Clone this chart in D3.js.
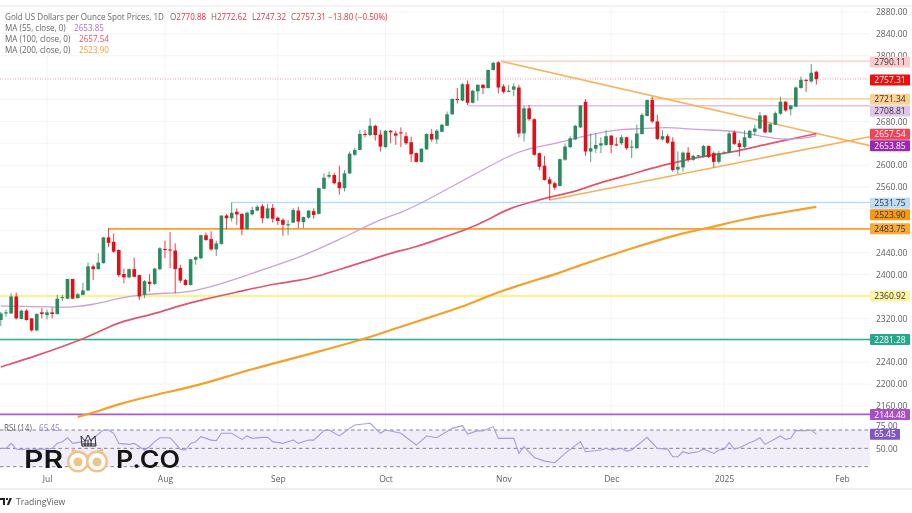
<!DOCTYPE html>
<html lang="en">
<head>
  <meta charset="UTF-8">
  <script src="https://d3js.org/d3.v7.min.js"></script>
  <title>Gold US Dollars per Ounce Spot Prices</title>
  <style>
    html, body { margin: 0; padding: 0; background: #fff; overflow: hidden; }
    svg { display: block; font-family: 'Open Sans', sans-serif; filter: blur(0.35px); }
    .axis path, .axis line { display: none; }
    .axis text { fill: #5d5d5d; font-size: 8.5px; font-family: 'Open Sans', sans-serif; }
    .legend { font-size: 8.1px; fill: #666; }
    .tag { font-size: 8.5px; text-anchor: middle; }
  </style>
</head>
<body>
<div id="chart"></div>
<script>
  // daily bars, bar 0 is 1 Jul 2024
  let firstBar = -9;
  let opens = [2317,2329,2329,2360,2319,2334,2320,2298,2331,2326,2331,2328,2357,2356,2392,2357,2363,2371,2415,2410,2421,2468,2460,2445,2401,2395,2410,2399,2363,2387,2383,2410,2447,2446,2444,2412,2390,2381,2427,2430,2472,2465,2446,2456,2508,2503,2515,2511,2483,2510,2517,2525,2503,2522,2504,2500,2490,2495,2517,2496,2504,2516,2511,2557,2579,2582,2569,2558,2585,2619,2628,2657,2655,2672,2656,2633,2663,2658,2660,2653,2642,2622,2606,2629,2657,2647,2661,2672,2693,2721,2718,2748,2714,2735,2747,2741,2774,2788,2744,2734,2738,2742,2658,2704,2684,2622,2599,2574,2567,2562,2610,2633,2647,2669,2716,2625,2630,2636,2637,2654,2638,2640,2651,2632,2631,2657,2690,2719,2680,2647,2653,2643,2592,2596,2623,2610,2616,2615,2635,2622,2606,2622,2623,2660,2640,2633,2650,2661,2667,2691,2660,2674,2694,2716,2702,2707,2741,2756,2753,2770.88];
  let closes = [2329,2331,2360,2320,2334,2317,2298,2328,2328,2331,2328,2356,2359,2392,2356,2364,2371,2415,2410,2422,2468,2458,2442,2399,2395,2410,2396,2360,2388,2383,2411,2448,2445,2444,2410,2389,2381,2428,2432,2472,2463,2446,2457,2508,2503,2513,2510,2483,2513,2518,2524,2503,2521,2502,2498,2491,2492,2518,2497,2505,2517,2509,2558,2577,2582,2567,2558,2585,2621,2628,2657,2655,2672,2655,2634,2663,2660,2654,2658,2640,2620,2606,2630,2657,2647,2663,2674,2693,2721,2719,2748,2714,2736,2747,2741,2774,2787,2742,2734,2736,2744,2658,2704,2684,2619,2597,2573,2566,2559,2611,2634,2649,2672,2709,2625,2631,2637,2640,2653,2637,2636,2651,2631,2634,2658,2692,2719,2680,2648,2653,2641,2591,2597,2623,2610,2617,2618,2635,2615,2606,2622,2623,2658,2639,2633,2651,2663,2667,2691,2660,2675,2695,2716,2700,2709,2742,2756,2754,2769,2757.31];
  let highs = [2332,2336,2366,2367,2336,2337,2321,2329,2339,2336,2340,2363,2363,2392,2392,2367,2385,2422,2418,2439,2469,2485,2475,2446,2411,2411,2431,2400,2390,2401,2412,2450,2462,2478,2457,2418,2392,2429,2434,2473,2477,2479,2462,2508,2511,2532,2521,2512,2515,2524,2527,2529,2529,2529,2506,2503,2500,2522,2524,2506,2518,2521,2559,2585,2588,2586,2599,2591,2625,2631,2664,2664,2686,2674,2664,2664,2664,2663,2669,2660,2652,2623,2631,2658,2666,2666,2675,2698,2722,2741,2750,2755,2738,2747,2748,2775,2789,2790,2748,2747,2750,2747,2708,2710,2686,2623,2617,2579,2570,2612,2640,2653,2674,2710,2721,2658,2658,2651,2664,2655,2651,2655,2652,2646,2674,2695,2720,2725,2692,2664,2657,2651,2625,2625,2633,2619,2619,2637,2636,2625,2626,2626,2661,2664,2646,2664,2664,2674,2697,2692,2678,2698,2725,2717,2710,2744,2762,2757,2785,2772.62];
  let lows = [2306,2323,2328,2318,2318,2316,2296,2296,2320,2318,2320,2327,2352,2355,2355,2356,2362,2370,2390,2409,2420,2450,2440,2395,2384,2393,2395,2354,2357,2369,2381,2408,2430,2412,2366,2385,2380,2380,2418,2428,2462,2444,2434,2455,2483,2497,2491,2472,2482,2508,2516,2494,2502,2495,2491,2471,2472,2494,2485,2485,2502,2502,2510,2556,2576,2565,2546,2552,2584,2617,2627,2651,2653,2645,2625,2632,2640,2637,2633,2637,2606,2605,2605,2628,2643,2639,2660,2672,2692,2713,2717,2710,2713,2718,2730,2740,2773,2731,2731,2733,2726,2651,2643,2681,2617,2591,2572,2536,2555,2561,2608,2631,2646,2668,2617,2606,2622,2622,2635,2622,2635,2637,2628,2613,2630,2656,2689,2677,2646,2645,2639,2588,2584,2588,2606,2608,2614,2614,2613,2596,2603,2620,2622,2637,2616,2631,2649,2654,2666,2658,2659,2673,2692,2698,2691,2706,2740,2734,2751,2747.32];

  // moving averages: [bar, price]
  let ma55 = [[-9,2342.7],[-3,2341.4],[1,2341],[4,2339.6],[9,2344.5],[14,2357.3],[18,2362.8],[23,2366.5],[27,2366.5],[32,2377.4],[37,2392],[43,2412.2],[49,2430.5],[57,2463.3],[65,2501.7],[69,2512.7],[73,2531],[77,2551],[82,2576.6],[86,2596.7],[90,2616.8],[94,2631.5],[99,2638.8],[103,2649.7],[108,2659.8],[112,2666],[115,2666],[121,2670],[125,2666],[129,2664.4],[134,2662.5],[138,2655.2],[142,2648],[145,2647],[148,2649.7],[150,2653.85]];
  let ma100 = [[-9,2231.2],[-1,2255],[3,2268.7],[7,2282.4],[11,2298.9],[14,2313.5],[21,2328],[25,2341],[30,2353.7],[38,2370],[45,2384.7],[49,2388.4],[53,2397.5],[58,2412.2],[63,2426.8],[67,2439.6],[72,2450.5],[77,2467],[82,2483.4],[86,2500],[90,2521.8],[96,2536.4],[98,2542],[103,2551],[108,2569.3],[113,2580.3],[118,2595],[122,2604],[127,2615],[134,2624.2],[138,2633.3],[144,2646.2],[150,2657.54]];
  let ma200 = [[6,2139.9],[9,2147.2],[14,2163.6],[21,2180.1],[30,2198.3],[36,2216.6],[43,2234.9],[52,2256.8],[62,2282.4],[67,2298.9],[73,2317.1],[81,2340.9],[86,2361],[91,2377.4],[96,2392.1],[100,2403],[104,2417.6],[110,2435.9],[118,2459.7],[124,2476.1],[129,2485.3],[136,2501.7],[144,2514.5],[150,2523.9]];

  // rsi: [bar, value]
  let rsi = [[-9,50],[-8,50],[-7,55.4],[-6,49.2],[-5,48.5],[-4,49.6],[-3,48.2],[-2,48.9],[-1,49.2],[0,49.2],[1,50],[2,55.4],[3,57.3],[4,61.6],[5,55.4],[7,57.3],[9,60.9],[11,70],[12,70],[13,66.4],[14,55.4],[16,54.3],[17,55.4],[18,51.8],[19,48.2],[20,51.8],[21,57.3],[22,61.6],[24,61.6],[25,55.4],[26,48.9],[27,48.2],[28,55.4],[29,57.3],[30,62.7],[32,59],[33,58.4],[34,66.4],[36,66.4],[38,59.8],[39,63.5],[40,60.9],[42,62],[43,62],[44,57.3],[46,55.4],[48,59],[49,55.4],[51,59],[52,59],[54,69.3],[55,70],[57,63.5],[59,71.8],[60,75.5],[63,77.3],[65,66.4],[66,70],[67,68.9],[69,66.4],[72,53.6],[74,63.5],[76,61.6],[79,71.8],[81,74.7],[82,65.6],[84,69.3],[85,68.9],[87,73.7],[88,60.9],[91,60.9],[92,44.5],[93,51.8],[95,40.1],[97,36.1],[99,34.3],[101,44.5],[104,57.3],[105,46.3],[108,48.2],[109,50],[110,48.2],[112,50],[113,47],[114,48.2],[117,62],[119,50],[121,49.2],[122,40.9],[123,40.9],[124,46.3],[125,44.5],[127,46.3],[128,49.2],[130,44.5],[131,48.2],[132,48.9],[133,56.2],[134,49.2],[135,50.7],[137,56.2],[138,58.4],[139,61.6],[140,54.3],[143,63.5],[144,59.8],[145,60.9],[146,69.3],[148,69.3],[149,70],[150,65.45]];

  // horizontal levels: value and the bar they start from
  let levelValues = [2790.11, 2721.34, 2708.81, 2531.75, 2483.75, 2360.92, 2281.28, 2144.48];
  let levelStarts = [88.5, 117.5, 82, 36, 12, -9.2, -9.2, -9.2];

  // the two trend lines of the triangle
  let trendDown = [[88.5, 2790], [160.4, 2635.7]];
  let trendUp = [[98, 2536.4], [160.4, 2652]];

  let gridTicks = [2880,2840,2800,2760,2720,2680,2640,2600,2560,2520,2480,2440,2400,2360,2320,2280,2240,2200,2160];
  // the other labels sit behind the price tags in the picture
  let priceTicks = [2880,2840,2800,2680,2600,2560,2440,2400,2320,2240,2200,2160];
  let rsiTicks = [75, 50];
  let monthBars = [0, 23, 45, 66, 89, 110, 132, 155];
  let monthLabels = ["Jul", "Aug", "Sep", "Oct", "Nov", "Dec", "2025", "Feb"];

  let paneRight = 870;
  let width = 912, height = 513;

  let svg = d3.select("#chart").append("svg").attr("width", width).attr("height", height);

  let x = d3.scaleLinear().domain([0, 155]).range([47, 842]);
  let y = d3.scaleLinear().domain([2880, 2160]).range([12, 405.9]);
  let yRsi = d3.scaleLinear().domain([70, 30]).range([430, 466.7]);

  let line = d3.line().x(d => x(d[0])).y(d => y(d[1]));
  let smooth = d3.line().x(d => x(d[0])).y(d => y(d[1])).curve(d3.curveBasis);
  let lineRsi = d3.line().x(d => x(d[0])).y(d => yRsi(d[1]));

  // frame
  svg.append("line").attr("x1", 0).attr("x2", width).attr("y1", 6).attr("y2", 6).attr("stroke", "#e9e9e9");
  svg.append("rect").attr("x", 0).attr("y", 488).attr("width", width).attr("height", 2).attr("fill", "#efefef");

  // grid
  let grid = svg.append("g").attr("stroke", "#f4f4f4");
  grid.selectAll(".gx").data(monthBars).join("line")
    .attr("x1", d => x(d)).attr("x2", d => x(d)).attr("y1", 6).attr("y2", 488);
  grid.selectAll(".gy").data(gridTicks).join("line")
    .attr("x1", 0).attr("x2", paneRight).attr("y1", d => y(d)).attr("y2", d => y(d));

  // levels
  let levelColors = ["#f9c9c9", "#fcd096", "#dcc2e8", "#bcdcf6", "#f8a030", "#fbf09c", "#2cae94", "#b258cc"];
  let levelWidths = [1.2, 1.5, 1.5, 1.5, 1.8, 2.6, 1.6, 1.6];
  svg.append("g").selectAll("line").data(levelValues).join("line")
    .attr("x1", (d, i) => x(levelStarts[i])).attr("x2", paneRight)
    .attr("y1", d => y(d)).attr("y2", d => y(d))
    .attr("stroke", (d, i) => levelColors[i])
    .attr("stroke-width", (d, i) => levelWidths[i]);

  // last price line
  svg.append("line")
    .attr("x1", 0).attr("x2", paneRight).attr("y1", y(closes[closes.length - 1])).attr("y2", y(closes[closes.length - 1]))
    .attr("stroke", "#ef8c8c").attr("stroke-width", 0.8).attr("stroke-dasharray", "1 1.5");

  // trend lines
  svg.append("path").attr("d", line(trendDown)).attr("fill", "none").attr("stroke", "#f5b566").attr("stroke-width", 1.6);
  svg.append("path").attr("d", line(trendUp)).attr("fill", "none").attr("stroke", "#f5b05a").attr("stroke-width", 1.6);

  // moving averages
  svg.append("path").attr("d", smooth(ma200)).attr("fill", "none").attr("stroke", "#f5a02a").attr("stroke-width", 2.2);
  svg.append("path").attr("d", smooth(ma100)).attr("fill", "none").attr("stroke", "#e0566c").attr("stroke-width", 1.7);
  svg.append("path").attr("d", smooth(ma55)).attr("fill", "none").attr("stroke", "#c9a0dc").attr("stroke-width", 1.3);

  // candles
  let bars = d3.range(opens.length);
  let upColor = "#2a8a60", downColor = "#e30f18";
  let candles = svg.append("g").selectAll("g").data(bars).join("g");
  candles.append("line")
    .attr("x1", i => x(i + firstBar)).attr("x2", i => x(i + firstBar))
    .attr("y1", i => y(highs[i])).attr("y2", i => y(lows[i]))
    .attr("stroke", i => closes[i] >= opens[i] ? upColor : downColor)
    .attr("stroke-width", 0.8);
  candles.append("rect")
    .attr("x", i => x(i + firstBar) - 1.8).attr("width", 3.6)
    .attr("y", i => y(Math.max(opens[i], closes[i])))
    .attr("height", i => Math.max(0.8, Math.abs(y(opens[i]) - y(closes[i]))))
    .attr("fill", i => closes[i] >= opens[i] ? upColor : downColor);

  // rsi pane
  svg.append("rect").attr("x", 0).attr("width", paneRight).attr("y", yRsi(70)).attr("height", yRsi(30) - yRsi(70)).attr("fill", "#f1eefa");
  svg.selectAll(".rsiLevel").data([70, 50, 30]).join("line")
    .attr("x1", 0).attr("x2", paneRight).attr("y1", d => yRsi(d)).attr("y2", d => yRsi(d))
    .attr("stroke", "#77757f").attr("stroke-width", 0.9).attr("stroke-dasharray", "3.5 3");
  svg.append("path").attr("d", lineRsi(rsi)).attr("fill", "none").attr("stroke", "#a79cd8").attr("stroke-width", 1.1);

  // axes
  svg.append("g").attr("class", "axis").attr("transform", "translate(874,0)")
    .call(d3.axisRight(y).tickValues(priceTicks).tickSize(0).tickPadding(2).tickFormat(d3.format(".2f")));
  svg.append("g").attr("class", "axis").attr("transform", "translate(874,0)")
    .call(d3.axisRight(yRsi).tickValues(rsiTicks).tickSize(0).tickPadding(2).tickFormat(d3.format(".2f")));
  svg.append("g").attr("class", "axis").attr("transform", "translate(0,474)")
    .call(d3.axisBottom(x).tickValues(monthBars).tickSize(0).tickPadding(2).tickFormat((d, i) => monthLabels[i]));

  // price tags, boxes sit on top of the axis labels
  let tagValues = [2790.11, 2757.31, 2721.34, 2708.81, 2657.54, 2653.85, 2531.75, 2523.90, 2483.75, 2360.92, 2281.28, 2144.48];
  let tagNudge = [0.8, 0.8, 0.5, 5.3, 0.5, 10, 0.8, 8, 0, 0, 0, 0];
  let tagFill = ["#f9cbcb", "#f10d0d", "#fdd193", "#dfc5ea", "#ee4359", "#9c27b0", "#bddcf8", "#f79a12", "#f8a93c", "#fdf4a6", "#25a98e", "#a94fc4"];
  let tagText = ["#333", "#fff", "#333", "#333", "#fff", "#fff", "#333", "#333", "#333", "#333", "#fff", "#fff"];
  let tags = svg.append("g").selectAll("g").data(tagValues).join("g")
    .attr("transform", (d, i) => "translate(870," + (y(d) + tagNudge[i]) + ")");
  tags.append("rect").attr("y", -5.5).attr("width", 40).attr("height", 11).attr("rx", 1)
    .attr("fill", (d, i) => tagFill[i]);
  tags.append("text").attr("class", "tag").attr("x", 20).attr("y", 3.1)
    .attr("fill", (d, i) => tagText[i]).text(d => d3.format(".2f")(d));

  // rsi tag
  svg.append("rect").attr("x", 870).attr("y", yRsi(65.45) - 5.5).attr("width", 30).attr("height", 11).attr("rx", 1).attr("fill", "#7e57c2");
  svg.append("text").attr("class", "tag").attr("x", 885).attr("y", yRsi(65.45) + 3.1).attr("fill", "#fff").text("65.45");

  // legend
  let head = svg.append("text").attr("class", "legend").attr("y", 19.5);
  head.append("tspan").attr("x", 5).text("Gold US Dollars per Ounce Spot Prices, 1D");
  head.append("tspan").attr("x", 170).text("O");
  head.append("tspan").attr("fill", "#e0323c").text("2770.88");
  head.append("tspan").attr("x", 211).text("H");
  head.append("tspan").attr("fill", "#e0323c").text("2772.62");
  head.append("tspan").attr("x", 252).text("L");
  head.append("tspan").attr("fill", "#e0323c").text("2747.32");
  head.append("tspan").attr("x", 291).text("C");
  head.append("tspan").attr("fill", "#e0323c").text("2757.31");
  head.append("tspan").attr("x", 328).attr("fill", "#e0323c").text("\u221213.80 (\u22120.50%)");

  let maNames = ["MA (55, close, 0)", "MA (100, close, 0)", "MA (200, close, 0)"];
  let maLast = ["2653.85", "2657.54", "2523.90"];
  let maColors = ["#b46ad8", "#ef5068", "#f2a233"];
  let maValueX = [74, 79, 79];
  maNames.forEach((name, i) => {
    let t = svg.append("text").attr("class", "legend").attr("y", 30.5 + i * 11.2);
    t.append("tspan").attr("x", 5).text(name);
    t.append("tspan").attr("x", maValueX[i]).attr("fill", maColors[i]).text(maLast[i]);
  });

  let rsiLegend = svg.append("text").attr("class", "legend").attr("y", 431);
  rsiLegend.append("tspan").attr("x", 4).text("RSI (14)");
  rsiLegend.append("tspan").attr("x", 39).attr("fill", "#8f82d8").text("65.45");

  // watermark
  let mark = svg.append("g");
  mark.append("path").attr("d", "M72 448 L78 452 L87 455 L96 452 L103 448 L104 462 L71 462 Z").attr("fill", "#eec48d");
  mark.selectAll(".eye").data([78, 97]).join("circle")
    .attr("cx", d => d).attr("cy", 461.5).attr("r", 9.8)
    .attr("fill", "#fff").attr("stroke", "#eec48d").attr("stroke-width", 2.4);
  mark.selectAll(".pupil").data([78, 97]).join("circle")
    .attr("cx", d => d).attr("cy", 462).attr("r", 4.6).attr("fill", "#eec48d");
  mark.append("path").attr("d", "M82 446 L81 436 L85 441 L88 435 L91 441 L95 436 L96 446 Z M82 444 H96 M85 441 V446 M88 440 V446 M91 441 V446")
    .attr("fill", "none").attr("stroke", "#111").attr("stroke-width", 0.9);
  mark.append("text").attr("x", 24).attr("y", 468).attr("font-family", "Inter, sans-serif")
    .attr("font-size", 24.5).attr("font-weight", 600).attr("fill", "#141414")
    .attr("textLength", 39).attr("lengthAdjust", "spacingAndGlyphs").text("PR");
  mark.append("text").attr("x", 116).attr("y", 468).attr("font-family", "Inter, sans-serif")
    .attr("font-size", 24.5).attr("font-weight", 600).attr("fill", "#141414")
    .attr("textLength", 64).attr("lengthAdjust", "spacingAndGlyphs").text("P.CO");

  // tradingview mark
  svg.append("path").attr("d", "M0 498 H5 V505 H3 V500 H0 Z M6 498 H8 V500 H6 Z M9.5 498 H12 L9 505 H6.8 Z").attr("fill", "#222");
  svg.append("text").attr("x", 16).attr("y", 504.5).attr("font-size", 8.6).attr("fill", "#5c5c5c").text("TradingView");
</script>
</body>
</html>
